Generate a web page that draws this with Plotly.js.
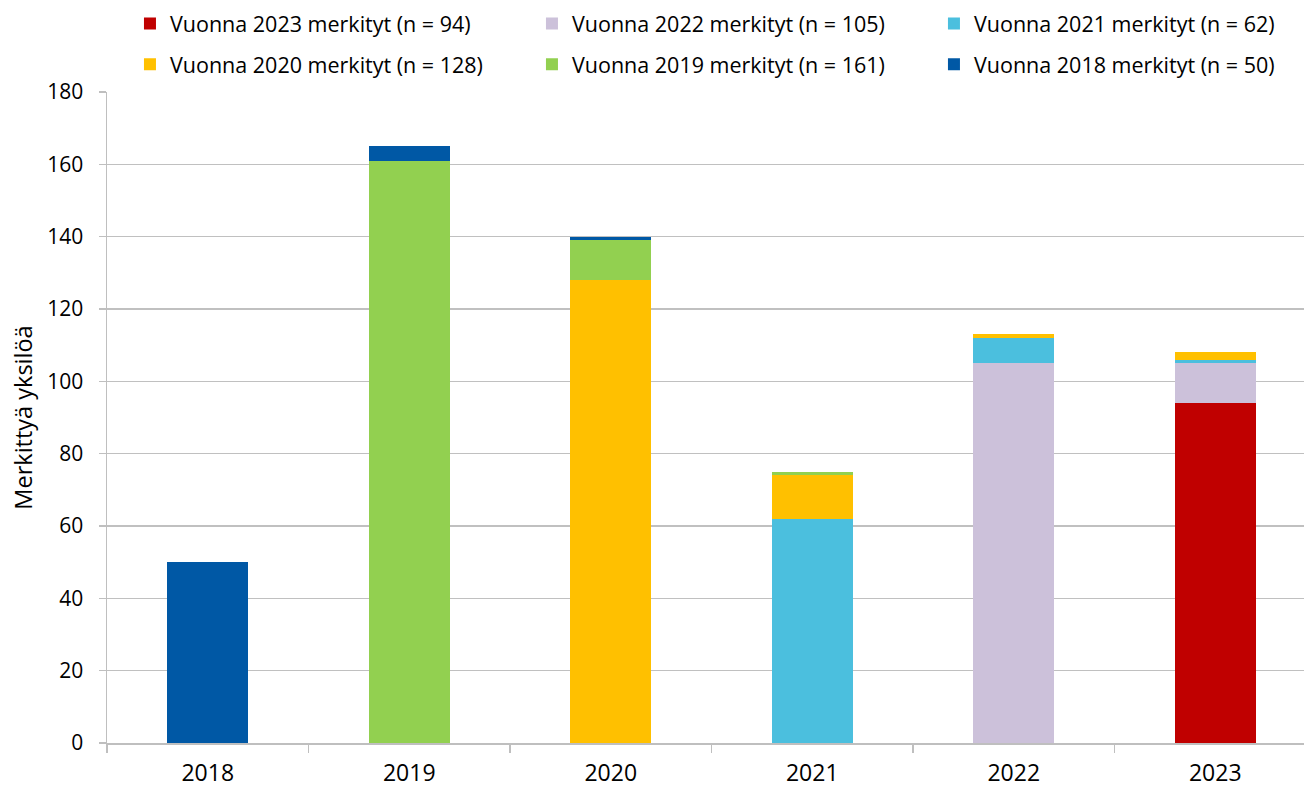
<!DOCTYPE html>
<html>
<head>
<meta charset="utf-8">
<script src="https://cdn.plot.ly/plotly-3.0.1.min.js"></script>
<style>
  html, body { margin: 0; padding: 0; overflow: hidden; background: #fff; }
  #chart { width: 1316px; height: 789px; }
</style>
</head>
<body>
<div id="chart"></div>
<script>
const years = ['2018', '2019', '2020', '2021', '2022', '2023'];
const seriesNames = [
  'Vuonna 2023 merkityt (n = 94)',
  'Vuonna 2022 merkityt (n = 105)',
  'Vuonna 2021 merkityt (n = 62)',
  'Vuonna 2020 merkityt (n = 128)',
  'Vuonna 2019 merkityt (n = 161)',
  'Vuonna 2018 merkityt (n = 50)'
];
const tagged2023 = [0, 0, 0, 0, 0, 94];
const tagged2022 = [0, 0, 0, 0, 105, 11];
const tagged2021 = [0, 0, 0, 62, 7, 1];
const tagged2020 = [0, 0, 128, 12, 1, 2];
const tagged2019 = [0, 161, 11, 1, 0, 0];
const tagged2018 = [50, 4, 1, 0, 0, 0];
const yTickVals = [0, 20, 40, 60, 80, 100, 120, 140, 160, 180];

const seriesValues = [tagged2023, tagged2022, tagged2021, tagged2020, tagged2019, tagged2018];
const colors = ['#C00000', '#CCC1DA', '#4BBFDE', '#FFC000', '#92D050', '#0058A5'];

const FONT = 'Open Sans, Liberation Sans, sans-serif';

// one legend per entry, laid out as a 3 x 2 grid
const legendIds = ['legend', 'legend2', 'legend3', 'legend4', 'legend5', 'legend6'];
const legendCols = [0.019, 0.3515, 0.684];
const legendRows = [1.105, 1.0425];

const traces = seriesValues.map((vals, i) => ({
  type: 'bar',
  name: seriesNames[i],
  x: years,
  y: vals,
  marker: { color: colors[i], line: { width: 0 } },
  legend: legendIds[i],
  hoverinfo: 'x+y+name'
}));

const layout = {
  width: 1316,
  height: 789,
  margin: { l: 107, r: 0, t: 92, b: 46, autoexpand: false },
  paper_bgcolor: '#fff',
  plot_bgcolor: '#fff',
  barmode: 'stack',
  bargap: 0.6,
  font: { family: FONT, color: '#000' },
  showlegend: true,
  xaxis: {
    type: 'category',
    showline: true,
    linecolor: '#BFBFBF',
    linewidth: 1.5,
    ticks: 'outside',
    tickson: 'boundaries',
    ticklen: 8,
    tickcolor: '#BFBFBF',
    tickwidth: 1.5,
    tickfont: { family: FONT, size: 23, color: '#000' },
    ticklabelstandoff: 9,
    showgrid: false,
    zeroline: false,
    fixedrange: true
  },
  yaxis: {
    range: [0, 180],
    tickvals: yTickVals,
    ticktext: yTickVals.map(String),
    showline: true,
    linecolor: '#BFBFBF',
    linewidth: 1.5,
    ticks: 'outside',
    ticklen: 7,
    tickcolor: '#BFBFBF',
    tickwidth: 1.5,
    showgrid: true,
    gridcolor: '#C0C0C0',
    gridwidth: 1.5,
    zeroline: false,
    tickfont: { family: FONT, size: 21, color: '#000' },
    ticklabelstandoff: 11,
    title: { text: 'Merkittyä yksilöä', font: { family: FONT, size: 23.5, color: '#000' }, standoff: 8 },
    automargin: false,
    fixedrange: true
  }
};

legendIds.forEach((id, i) => {
  layout[id] = {
    orientation: 'h',
    xanchor: 'left',
    yanchor: 'middle',
    x: legendCols[i % 3],
    y: legendRows[Math.floor(i / 3)],
    font: { family: FONT, size: 21.5, color: '#000' },
    bgcolor: 'rgba(0,0,0,0)'
  };
});

Plotly.newPlot('chart', traces, layout, { displayModeBar: false, staticPlot: true });
</script>
</body>
</html>
